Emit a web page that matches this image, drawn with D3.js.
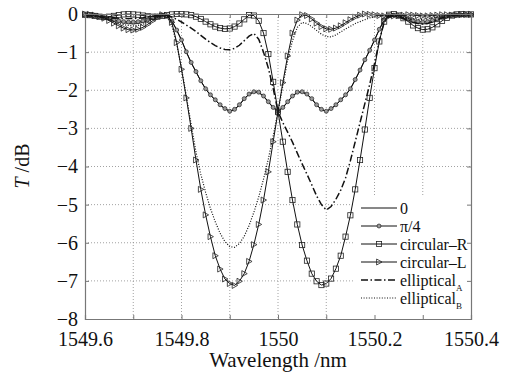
<!DOCTYPE html>
<html>
<head>
<meta charset="utf-8">
<script src="https://cdn.jsdelivr.net/npm/d3@7"></script>
<style>
  body { margin: 0; background: #fff; }
  svg { display: block; }
</style>
</head>
<body>
<div class="content"></div>
<script>
var FONT = '"Liberation Serif"';

// sample wavelengths (nm)
var wavelength = [
  1549.60, 1549.61, 1549.62, 1549.63, 1549.64, 1549.65, 1549.66, 1549.67, 1549.68, 1549.69,
  1549.70, 1549.71, 1549.72, 1549.73, 1549.74, 1549.75, 1549.76, 1549.77, 1549.78, 1549.79,
  1549.80, 1549.81, 1549.82, 1549.83, 1549.84, 1549.85, 1549.86, 1549.87, 1549.88, 1549.89,
  1549.90, 1549.91, 1549.92, 1549.93, 1549.94, 1549.95, 1549.96, 1549.97, 1549.98, 1549.99,
  1550.00, 1550.01, 1550.02, 1550.03, 1550.04, 1550.05, 1550.06, 1550.07, 1550.08, 1550.09,
  1550.10, 1550.11, 1550.12, 1550.13, 1550.14, 1550.15, 1550.16, 1550.17, 1550.18, 1550.19,
  1550.20, 1550.21, 1550.22, 1550.23, 1550.24, 1550.25, 1550.26, 1550.27, 1550.28, 1550.29,
  1550.30, 1550.31, 1550.32, 1550.33, 1550.34, 1550.35, 1550.36, 1550.37, 1550.38, 1550.39,
  1550.40
];

// transmission in dB, one array per polarization state
var zero = [
  -0.03, -0.04, -0.05, -0.07, -0.10, -0.13, -0.17, -0.20, -0.23, -0.25,
  -0.26, -0.25, -0.22, -0.17, -0.12, -0.07, -0.04, -0.06, -0.18, -0.42,
  -0.69, -1.00, -1.28, -1.52, -1.76, -1.97, -2.13, -2.26, -2.39, -2.49,
  -2.55, -2.51, -2.39, -2.23, -2.11, -2.05, -2.06, -2.16, -2.31, -2.46,
  -2.56, -2.46, -2.31, -2.16, -2.06, -2.05, -2.11, -2.23, -2.39, -2.51,
  -2.55, -2.49, -2.39, -2.26, -2.13, -1.97, -1.73, -1.48, -1.21, -0.96,
  -0.69, -0.41, -0.16, -0.05, -0.04, -0.07, -0.12, -0.17, -0.21, -0.25,
  -0.26, -0.25, -0.21, -0.16, -0.11, -0.07, -0.05, -0.03, -0.03, -0.02,
  -0.02
];
var pi4 = [
  -0.03, -0.04, -0.05, -0.07, -0.09, -0.12, -0.15, -0.18, -0.20, -0.21,
  -0.21, -0.20, -0.18, -0.14, -0.10, -0.06, -0.04, -0.06, -0.18, -0.42,
  -0.68, -0.99, -1.27, -1.51, -1.75, -1.96, -2.12, -2.25, -2.38, -2.48,
  -2.55, -2.50, -2.38, -2.22, -2.10, -2.04, -2.05, -2.15, -2.30, -2.45,
  -2.55, -2.45, -2.30, -2.15, -2.05, -2.04, -2.10, -2.22, -2.38, -2.50,
  -2.55, -2.48, -2.38, -2.25, -2.12, -1.96, -1.72, -1.47, -1.20, -0.95,
  -0.68, -0.40, -0.15, -0.04, -0.03, -0.05, -0.09, -0.13, -0.17, -0.20,
  -0.21, -0.20, -0.17, -0.13, -0.09, -0.06, -0.04, -0.03, -0.03, -0.02,
  -0.02
];
var circR = [
  -0.02, -0.03, -0.05, -0.07, -0.08, -0.07, -0.05, -0.03, -0.01, 0.00,
  -0.01, -0.02, -0.04, -0.06, -0.07, -0.07, -0.05, -0.03, -0.01, 0.00,
  0.00, -0.01, -0.03, -0.07, -0.13, -0.20, -0.27, -0.33, -0.37, -0.39,
  -0.38, -0.33, -0.25, -0.14, -0.03, -0.04, -0.18, -0.50, -1.05, -1.78,
  -2.56, -3.35, -4.14, -4.88, -5.52, -6.06, -6.47, -6.81, -7.01, -7.11,
  -7.07, -6.94, -6.68, -6.34, -5.84, -5.28, -4.60, -3.83, -3.03, -2.20,
  -1.42, -0.72, -0.20, -0.02, 0.00, -0.04, -0.11, -0.20, -0.30, -0.37,
  -0.41, -0.40, -0.35, -0.27, -0.18, -0.10, -0.04, -0.01, 0.00, -0.01,
  -0.01
];
var circL = [
  0.00, -0.01, -0.03, -0.06, -0.11, -0.17, -0.24, -0.31, -0.37, -0.41,
  -0.42, -0.40, -0.35, -0.27, -0.18, -0.09, -0.02, -0.04, -0.22, -0.75,
  -1.45, -2.20, -3.00, -3.83, -4.60, -5.27, -5.84, -6.34, -6.69, -6.95,
  -7.07, -7.12, -7.01, -6.81, -6.49, -6.05, -5.52, -4.88, -4.14, -3.35,
  -2.56, -1.80, -1.10, -0.50, -0.16, -0.02, -0.04, -0.13, -0.24, -0.33,
  -0.39, -0.40, -0.37, -0.31, -0.23, -0.15, -0.08, -0.03, 0.00, -0.01,
  -0.02, -0.04, -0.05, -0.06, -0.05, -0.04, -0.03, -0.02, -0.03, -0.04,
  -0.05, -0.05, -0.04, -0.03, -0.02, -0.02, -0.03, -0.03, -0.02, -0.01,
  -0.01
];
var ellA = [
  -0.04, -0.05, -0.06, -0.07, -0.08, -0.09, -0.10, -0.11, -0.12, -0.12,
  -0.12, -0.11, -0.10, -0.08, -0.06, -0.04, -0.03, -0.04, -0.08, -0.14,
  -0.21, -0.29, -0.37, -0.46, -0.56, -0.66, -0.75, -0.83, -0.89, -0.93,
  -0.94, -0.90, -0.82, -0.70, -0.58, -0.51, -0.66, -1.00, -1.42, -1.95,
  -2.56, -2.85, -3.10, -3.36, -3.65, -3.93, -4.20, -4.48, -4.77, -5.00,
  -5.14, -5.05, -4.86, -4.62, -4.30, -3.85, -3.35, -2.85, -2.35, -1.85,
  -1.30, -0.70, -0.22, -0.06, -0.04, -0.07, -0.12, -0.17, -0.22, -0.25,
  -0.26, -0.25, -0.21, -0.15, -0.10, -0.06, -0.04, -0.03, -0.03, -0.02,
  -0.02
];
var ellB = [
  -0.02, -0.03, -0.05, -0.08, -0.11, -0.15, -0.20, -0.24, -0.28, -0.30,
  -0.31, -0.30, -0.27, -0.21, -0.14, -0.08, -0.04, -0.08, -0.30, -0.78,
  -1.42, -2.15, -2.90, -3.62, -4.20, -4.68, -5.10, -5.45, -5.75, -5.97,
  -6.10, -6.12, -6.02, -5.83, -5.55, -5.20, -4.80, -4.33, -3.80, -3.20,
  -2.56, -1.88, -1.22, -0.70, -0.35, -0.22, -0.25, -0.33, -0.43, -0.53,
  -0.59, -0.60, -0.55, -0.47, -0.39, -0.32, -0.25, -0.20, -0.15, -0.10,
  -0.07, -0.05, -0.04, -0.04, -0.05, -0.07, -0.09, -0.11, -0.13, -0.14,
  -0.14, -0.13, -0.11, -0.08, -0.06, -0.04, -0.03, -0.03, -0.02, -0.02,
  -0.02
];

var xTicks = [1549.6, 1549.7, 1549.8, 1549.9, 1550.0, 1550.1, 1550.2, 1550.3, 1550.4];
var xLabels = ['1549.6', '', '1549.8', '', '1550', '', '1550.2', '', '1550.4'];
var yTicks = [0, -1, -2, -3, -4, -5, -6, -7, -8];

var series = [
  { name: '0', values: zero, marker: 'none', dash: null, width: 1 },
  { name: 'π/4', values: pi4, marker: 'circle', dash: null, width: 1 },
  { name: 'circular–R', values: circR, marker: 'square', dash: null, width: 1 },
  { name: 'circular–L', values: circL, marker: 'triangle', dash: null, width: 1 },
  { name: 'elliptical', sub: 'A', values: ellA, marker: 'none', dash: '7,2.5,1.5,2.5', width: 1.5 },
  { name: 'elliptical', sub: 'B', values: ellB, marker: 'none', dash: '1,1.6', width: 1.2 }
];

var W = 518, H = 378;
var svg = d3.select('.content').append('svg')
    .attr('width', W)
    .attr('height', H);
svg.append('rect').attr('width', W).attr('height', H).attr('fill', '#fff');

var x = d3.scaleLinear().domain([1549.6, 1550.4]).range([85, 471]);
var y = d3.scaleLinear().domain([-8, 0]).range([319, 14]);

// grid
var grid = svg.append('g')
    .attr('stroke', '#8a8a8a')
    .attr('stroke-width', 0.8)
    .attr('stroke-dasharray', '1,2');
grid.selectAll('.gx').data(xTicks.slice(1, -1)).enter().append('line')
    .attr('x1', function(d) { return x(d); }).attr('x2', function(d) { return x(d); })
    .attr('y1', y(0)).attr('y2', y(-8));
grid.selectAll('.gy').data(yTicks.slice(1, -1)).enter().append('line')
    .attr('x1', x(1549.6)).attr('x2', x(1550.4))
    .attr('y1', function(d) { return y(d); }).attr('y2', function(d) { return y(d); });

function drawMarker(g, type, cx, cy) {
    if(type == 'circle') {
        g.append('circle').attr('cx', cx).attr('cy', cy).attr('r', 2)
            .attr('fill', '#999').attr('stroke', '#222').attr('stroke-width', 0.7);
    } else if(type == 'square') {
        g.append('rect').attr('x', cx - 2.6).attr('y', cy - 2.6)
            .attr('width', 5.2).attr('height', 5.2)
            .attr('fill', 'none').attr('stroke', '#222').attr('stroke-width', 0.8);
    } else if(type == 'triangle') {
        g.append('path')
            .attr('d', 'M' + (cx - 2.4) + ',' + (cy - 3) + 'L' + (cx + 3) + ',' + cy + 'L' + (cx - 2.4) + ',' + (cy + 3) + 'Z')
            .attr('fill', 'none').attr('stroke', '#222').attr('stroke-width', 0.8);
    }
}

var line = d3.line()
    .x(function(d) { return x(d[0]); })
    .y(function(d) { return y(d[1]); });

var plot = svg.append('g');
series.forEach(function(s) {
    var pts = wavelength.map(function(w, i) { return [w, s.values[i]]; });
    plot.append('path')
        .attr('d', line(pts))
        .attr('fill', 'none')
        .attr('stroke', '#111')
        .attr('stroke-width', s.width)
        .attr('stroke-dasharray', s.dash);
    if(s.marker != 'none') {
        var mg = plot.append('g');
        pts.forEach(function(p) { drawMarker(mg, s.marker, x(p[0]), y(p[1])); });
    }
});

// legend
var legY = [208, 226, 244, 262, 280, 298];
var leg = svg.append('g');
leg.append('rect').attr('x', 355).attr('y', 197).attr('width', 116).attr('height', 122).attr('fill', '#fff');
series.forEach(function(s, i) {
    var ly = legY[i];
    leg.append('line').attr('x1', 361).attr('x2', 397).attr('y1', ly).attr('y2', ly)
        .attr('stroke', '#111').attr('stroke-width', s.width)
        .attr('stroke-dasharray', s.dash);
    if(s.marker != 'none') drawMarker(leg, s.marker, 379, ly);
    var t = leg.append('text').attr('x', 400).attr('y', ly).attr('dy', '0.35em')
        .style('font-family', FONT).style('font-size', '16px').attr('fill', '#111')
        .text(s.name);
    if(s.sub)
        t.append('tspan').attr('dy', '5').style('font-size', '9px').text(s.sub);
});

// axes, MATLAB style box with inward ticks
var axB = svg.append('g').attr('transform', 'translate(0,319)')
    .call(d3.axisBottom(x).tickValues(xTicks).tickSize(-4).tickPadding(13)
        .tickFormat(function(d, i) { return xLabels[i]; }));
var axT = svg.append('g').attr('transform', 'translate(0,14)')
    .call(d3.axisTop(x).tickValues(xTicks).tickSize(-4).tickFormat(''));
var axL = svg.append('g').attr('transform', 'translate(85,0)')
    .call(d3.axisLeft(y).tickValues(yTicks).tickSize(-4).tickPadding(7)
        .tickFormat(function(d) { return d == 0 ? '0' : '−' + Math.abs(d); }));
var axR = svg.append('g').attr('transform', 'translate(471,0)')
    .call(d3.axisRight(y).tickValues(yTicks).tickSize(-4).tickFormat(''));

[axB, axT, axL, axR].forEach(function(a) {
    a.attr('font-family', null);
    a.select('.domain').attr('stroke', '#777').attr('stroke-width', 1.2);
    a.selectAll('.tick line').attr('stroke', '#777');
    a.selectAll('text').style('font-family', FONT)
        .style('font-size', '20px').attr('fill', '#111');
});

svg.append('text')
    .attr('x', 278).attr('y', 367)
    .attr('text-anchor', 'middle')
    .style('font-family', FONT)
    .style('font-size', '21px')
    .attr('fill', '#111')
    .text('Wavelength /nm');

var yl = svg.append('text')
    .attr('transform', 'translate(29,166) rotate(-90)')
    .attr('text-anchor', 'middle')
    .style('font-family', FONT)
    .style('font-size', '20px')
    .attr('fill', '#111');
yl.append('tspan').style('font-style', 'italic').text('T');
yl.append('tspan').text(' /dB');
</script>
</body>
</html>
